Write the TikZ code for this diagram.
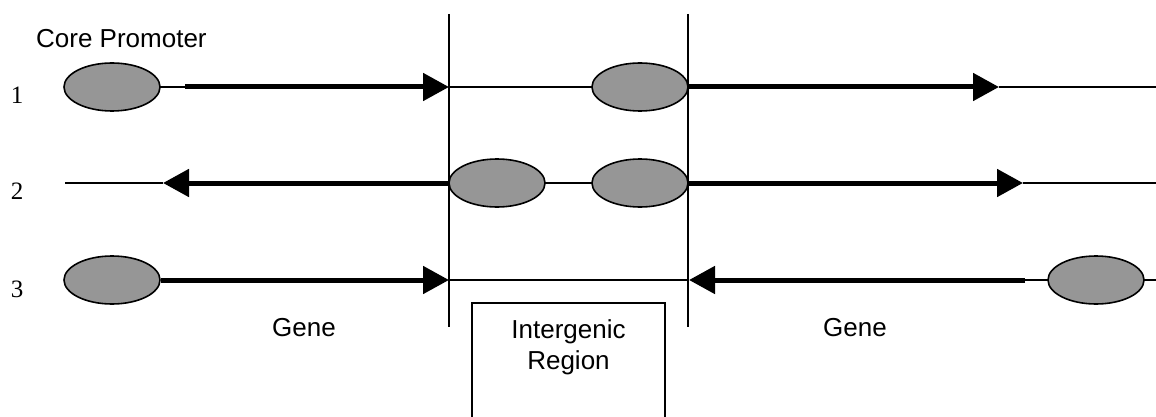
\documentclass[tikz,border=0pt]{standalone}
\usepackage{fontspec}
\setmainfont{Liberation Serif}
\setsansfont{Liberation Sans}
\usetikzlibrary{arrows.meta,shapes.geometric}
\begin{document}
\begin{tikzpicture}[x=1pt,y=-1pt,
  promoter/.style={ellipse,draw=black,line width=1.6pt,fill=black!41,
    minimum width=96pt,minimum height=48pt,inner sep=0pt},
  thinline/.style={line width=1.8pt},
  geneline/.style={line width=5pt,-{Triangle[length=26pt,width=27pt]}},
  label/.style={font=\sffamily\fontsize{26}{30}\selectfont,anchor=base,inner sep=0pt},
  rownum/.style={font=\rmfamily\fontsize{25}{28}\selectfont,anchor=base,inner sep=0pt},
  boundary/.style={line width=1.6pt}]
\useasboundingbox (0,0) rectangle (1156,417);

% region boundaries
\coordinate (b1t) at (449,14);
\coordinate (b1b) at (449,327);
\coordinate (b2t) at (688,14);
\coordinate (b2b) at (688,327);
\draw[boundary] (b1t) -- (b1b);
\draw[boundary] (b2t) -- (b2b);

% labels
\node[label,anchor=base west] (cp) at (36,48) {Core Promoter};
\node[rownum] (n1) at (17,104) {1};
\node[rownum] (n2) at (17,199) {2};
\node[rownum] (n3) at (17,297) {3};
\node[label] (g1) at (304,336) {Gene};
\node[label] (g2) at (855,336) {Gene};

% intergenic box
\coordinate (bx1) at (472,303);
\coordinate (bx2) at (665,420);
\draw[boundary] (bx1) rectangle (bx2);
\node[label] (ig1) at (568.5,338) {Intergenic};
\node[label] (ig2) at (568.5,369) {Region};

% ---- row 1 ----
\coordinate (r1a) at (185,87);
\coordinate (r1b) at (449,87);
\coordinate (r1c) at (999,87);
\coordinate (r1e) at (1156,87);
\draw[thinline] (r1b) -- (640,87);
\draw[thinline] (112,87) -- (r1a);
\draw[thinline] (r1c) -- (r1e);
\node[promoter] (p1a) at (112,87) {};
\node[promoter] (p1b) at (640,87) {};
\draw[geneline] (r1a) -- (r1b);
\draw[geneline] (p1b.east) -- (r1c);

% ---- row 2 ----
\coordinate (r2s) at (65,183);
\coordinate (r2a) at (163,183);
\coordinate (r2c) at (1023,183);
\coordinate (r2e) at (1156,183);
\draw[thinline] (r2s) -- (r2a);
\draw[thinline] (497,183) -- (640,183);
\draw[thinline] (r2c) -- (r2e);
\node[promoter] (p2a) at (497,183) {};
\node[promoter] (p2b) at (640,183) {};
\draw[geneline] (p2a.west) -- (r2a);
\draw[geneline] (p2b.east) -- (r2c);

% ---- row 3 ----
\coordinate (r3b) at (449,280);
\coordinate (r3c) at (689,280);
\coordinate (r3d) at (1025,280);
\coordinate (r3e) at (1156,280);
\draw[thinline] (r3b) -- (r3c);
\draw[thinline] (r3d) -- (r3e);
\node[promoter] (p3a) at (112,280) {};
\node[promoter] (p3b) at (1096,280) {};
\draw[geneline] (p3a.east) -- (r3b);
\draw[geneline] (r3d) -- (r3c);
\end{tikzpicture}
\end{document}
